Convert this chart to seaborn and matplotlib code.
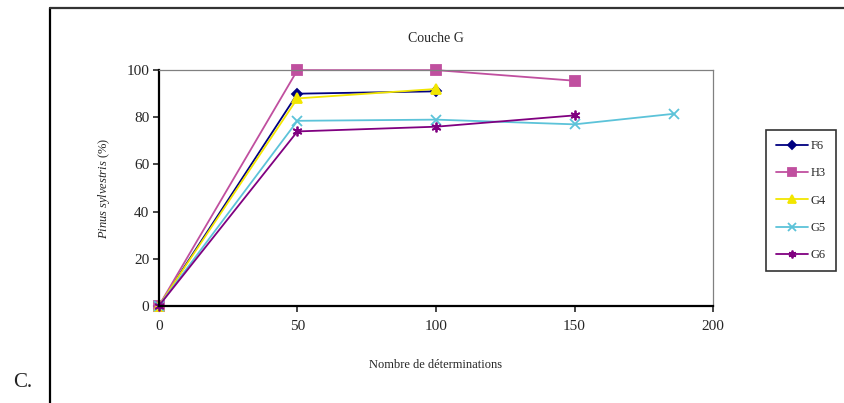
import pandas as pd
import matplotlib
matplotlib.use("Agg")
import matplotlib.pyplot as plt
from matplotlib.lines import Line2D
import seaborn as sns

# data
series = ["F6", "H3", "G4", "G5", "G6"]
x_f6 = [0, 50, 100]
y_f6 = [0, 90, 91]
x_h3 = [0, 50, 100, 150]
y_h3 = [0, 100, 100, 95.5]
x_g4 = [0, 50, 100]
y_g4 = [0, 88, 92]
x_g5 = [0, 50, 100, 150, 186]
y_g5 = [0, 78.5, 79, 77, 81.5]
x_g6 = [0, 50, 100, 150]
y_g6 = [0, 74, 76, 80.8]

xs = {"F6": x_f6, "H3": x_h3, "G4": x_g4, "G5": x_g5, "G6": x_g6}
ys = {"F6": y_f6, "H3": y_h3, "G4": y_g4, "G5": y_g5, "G6": y_g6}

rows = []
for s in series:
    for x, y in zip(xs[s], ys[s]):
        rows.append({"Serie": s, "n": x, "pct": y})
df = pd.DataFrame(rows)

colors = {"F6": "#000080", "H3": "#c04f9f", "G4": "#f2e600",
          "G5": "#5cc3d9", "G6": "#800080"}
markers = {"F6": "D", "H3": "s", "G4": "^", "G5": "x", "G6": (6, 2, 0)}
sizes = {"F6": 5, "H3": 7, "G4": 7, "G5": 7, "G6": 7}

sns.set_style("white")
plt.rcParams["font.family"] = ["Liberation Serif", "DejaVu Serif"]
plt.rcParams["mathtext.fontset"] = "custom"
plt.rcParams["mathtext.rm"] = "Liberation Serif"
plt.rcParams["mathtext.it"] = "Liberation Serif:italic"

fig = plt.figure(figsize=(8.45, 4.03), dpi=100)
ax = fig.add_axes([0.188, 0.241, 0.656, 0.585])

for s in series:
    sub = df[df["Serie"] == s]
    sns.lineplot(data=sub, x="n", y="pct", ax=ax, color=colors[s],
                 marker=markers[s], markersize=sizes[s], markeredgewidth=1.3,
                 markeredgecolor=colors[s], linewidth=1.3, label=s,
                 clip_on=False)

ax.set_xlim(0, 200)
ax.set_ylim(0, 100)
ax.set_xticks([0, 50, 100, 150, 200])
ax.set_yticks([0, 20, 40, 60, 80, 100])
ax.tick_params(axis="both", labelsize=11, length=4, width=1.2, direction="out",
               bottom=True, left=True, pad=3)
ax.tick_params(axis="x", pad=6)

for side in ["left", "bottom"]:
    ax.spines[side].set_color("black")
    ax.spines[side].set_linewidth(1.6)
for side in ["top", "right"]:
    ax.spines[side].set_color("#808080")
    ax.spines[side].set_linewidth(0.9)

ax.set_title("Couche G", fontsize=10, pad=20)
ax.set_xlabel("Nombre de déterminations", fontsize=9, labelpad=19)
ax.set_ylabel(r"$\it{Pinus\ sylvestris}$ (%)", fontsize=9, labelpad=10)

leg = ax.legend(loc="upper left", bbox_to_anchor=(0.906, 0.677),
                bbox_transform=fig.transFigure, fontsize=9, frameon=True,
                fancybox=False, edgecolor="black", handlelength=2.6,
                handletextpad=0.2, labelspacing=1.22, borderpad=0.8,
                borderaxespad=0, markerscale=0.8)
leg.get_frame().set_linewidth(1.2)

# outer frame and panel letter
fig.add_artist(Line2D([0.059, 0.059], [0.0, 0.98], color="black", lw=1.6))
fig.add_artist(Line2D([0.059, 1.0], [0.98, 0.98], color="#333333", lw=1.6))
fig.text(0.015, 0.04, "C.", fontsize=15, color="#222222")

fig.savefig("out.png", dpi=100)
